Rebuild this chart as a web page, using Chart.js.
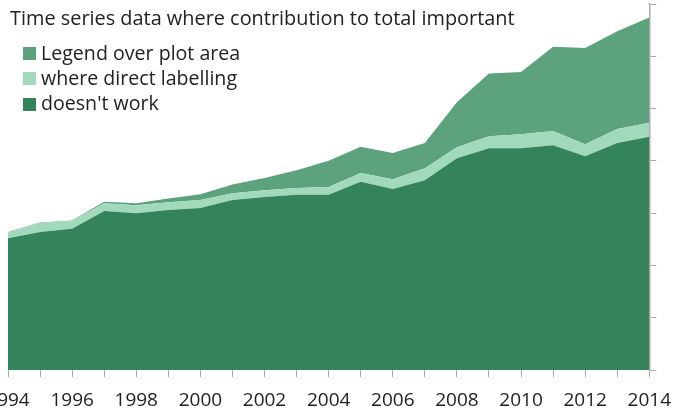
<!DOCTYPE html>
<html>
<head>
<meta charset="utf-8">
<script src="https://cdn.jsdelivr.net/npm/chart.js@4/dist/chart.umd.min.js"></script>
<style>
  html, body { margin: 0; padding: 0; background: #fff; }
  #wrap { position: relative; width: 683px; height: 410px; overflow: hidden; font-family: "Open Sans", sans-serif; color: #222; }
  #chart { position: absolute; left: -40px; top: 0; }
  #title { position: absolute; left: 10px; top: 7.5px; font-size: 19.9px; line-height: 20px; white-space: nowrap; }
  .row { position: absolute; left: 23px; font-size: 19.6px; line-height: 19px; white-space: nowrap; }
  .row i { position: absolute; left: 0; top: 4.5px; width: 13px; height: 13px; }
  .row span { position: absolute; left: 18px; top: 0; }
</style>
</head>
<body>
<div id="wrap">
  <canvas id="chart" width="723" height="410"></canvas>
  <div id="title"></div>
  <div id="legend"></div>
</div>
<script>
const titleText = 'Time series data where contribution to total important'

const years = ['1994', '1995', '1996', '1997', '1998', '1999', '2000', '2001', '2002', '2003', '2004',
  '2005', '2006', '2007', '2008', '2009', '2010', '2011', '2012', '2013', '2014']

// bottom layer
const doesntWork = [25.2, 26.4, 27.0, 30.4, 30.0, 30.6, 31.0, 32.5, 33.1, 33.5, 33.5,
  36.0, 34.6, 36.3, 40.5, 42.4, 42.4, 43.0, 40.9, 43.4, 44.6]
// thin middle band
const directLabelling = [1.1, 1.7, 1.5, 1.5, 1.5, 1.5, 1.5, 1.3, 1.3, 1.3, 1.5,
  1.7, 1.9, 2.3, 2.1, 2.3, 2.7, 2.7, 2.3, 2.7, 2.7]
// top layer
const legendOver = [0.1, 0.1, 0.1, 0.3, 0.4, 0.7, 1.1, 1.7, 2.3, 3.4, 5.0,
  5.0, 5.0, 4.8, 8.6, 12.0, 11.9, 16.1, 18.4, 18.7, 20.1]

const colors = {
  dark: '#35835a',
  light: '#a1d9bd',
  mid: '#5ca37d'
}

document.getElementById('title').textContent = titleText

const datasets = [
  { label: "doesn't work", data: doesntWork, backgroundColor: colors.dark, fill: 'origin' },
  { label: 'where direct labelling', data: directLabelling, backgroundColor: colors.light, fill: '-1' },
  { label: 'Legend over plot area', data: legendOver, backgroundColor: colors.mid, fill: '-1' }
].map(d => Object.assign(d, { borderColor: 'rgba(0,0,0,0)', borderWidth: 0, pointRadius: 0, tension: 0 }))

const chart = new Chart(document.getElementById('chart'), {
  type: 'line',
  data: { labels: years, datasets },
  options: {
    responsive: false,
    animation: false,
    layout: { padding: { left: 48, top: 4, right: 0, bottom: 0 } },
    plugins: { legend: { display: false }, tooltip: { enabled: false } },
    scales: {
      x: {
        grid: { drawOnChartArea: false, drawTicks: true, tickLength: 7, color: '#aaa' },
        border: { display: false },
        ticks: {
          autoSkip: false,
          maxRotation: 0,
          padding: 12,
          color: '#222',
          font: { family: 'Open Sans', size: 19 },
          callback: function (val, i) { return i % 2 === 0 ? this.getLabelForValue(val) : '' }
        },
        afterFit: s => { s.height = 40 }
      },
      y: {
        position: 'right',
        stacked: true,
        min: 0,
        max: 70,
        grid: { drawOnChartArea: false, drawTicks: true, tickLength: 7, color: '#aaa' },
        border: { display: true, color: '#aaa', width: 1.5 },
        ticks: { display: false, stepSize: 10 },
        afterFit: s => { s.width = 33 }
      }
    }
  }
})

// legend drawn over the plot, top to bottom = top layer first
const legendEl = document.getElementById('legend')
chart.data.datasets.slice().reverse().forEach((d, i) => {
  const row = document.createElement('div')
  row.className = 'row'
  row.style.top = (42.5 + i * 25.3) + 'px'
  row.innerHTML = '<i style="background:' + d.backgroundColor + '"></i><span></span>'
  row.querySelector('span').textContent = d.label
  legendEl.appendChild(row)
})
</script>
</body>
</html>
